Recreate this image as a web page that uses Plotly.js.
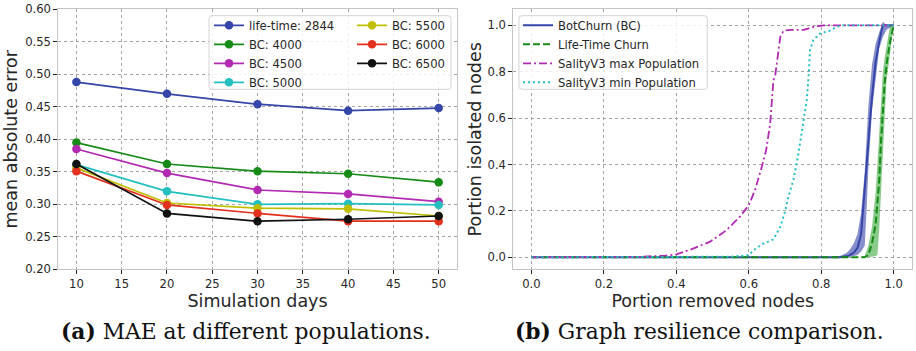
<!DOCTYPE html>
<html>
<head>
<meta charset="utf-8">
<script src="https://cdn.plot.ly/plotly-3.0.1.min.js"></script>
<style>
  html, body { margin: 0; padding: 0; background: #ffffff; }
  #chart { width: 916px; height: 351px; }
</style>
</head>
<body>
<div id="chart"></div>
<script>
// ---------- (a) MAE at different populations ----------
const days = [10, 20, 30, 40, 50];
const lifetime_2844 = [0.488, 0.470, 0.454, 0.444, 0.448];
const bc_4000 = [0.395, 0.362, 0.351, 0.347, 0.334];
const bc_4500 = [0.385, 0.348, 0.322, 0.316, 0.304];
const bc_5000 = [0.361, 0.320, 0.300, 0.301, 0.299];
const bc_5500 = [0.356, 0.302, 0.294, 0.293, 0.282];
const bc_6000 = [0.351, 0.299, 0.286, 0.274, 0.274];
const bc_6500 = [0.362, 0.286, 0.274, 0.277, 0.282];
const maeNames = ['life-time: 2844', 'BC: 4000', 'BC: 4500', 'BC: 5000', 'BC: 5500', 'BC: 6000', 'BC: 6500'];

// ---------- (b) Graph resilience comparison ----------
const botchurn_x    = [0, 0.82, 0.85, 0.87, 0.88, 0.89, 0.90, 0.91, 0.92, 0.925, 0.93, 0.94, 0.95, 0.96, 0.97, 0.98, 1.0];
const botchurn_mean = [0, 0, 0, 0.004, 0.01, 0.02, 0.04, 0.10, 0.29, 0.40, 0.50, 0.69, 0.84, 0.93, 1.0, 1.0, 1.0];
const botchurn_hi   = [0, 0, 0.004, 0.018, 0.035, 0.06, 0.10, 0.19, 0.37, 0.50, 0.65, 0.83, 0.92, 0.97, 1.015, 1.0, 1.0];
const botchurn_lo   = [0, 0, 0, 0, 0.002, 0.005, 0.01, 0.025, 0.05, 0.20, 0.38, 0.63, 0.78, 0.90, 0.95, 0.98, 1.0];

const lifetime_x    = [0, 0.90, 0.92, 0.93, 0.94, 0.95, 0.955, 0.96, 0.965, 0.97, 0.975, 0.98, 0.99, 1.0];
const lifetime_mean = [0, 0, 0, 0.01, 0.06, 0.14, 0.22, 0.33, 0.50, 0.63, 0.75, 0.83, 0.93, 1.0];
const lifetime_hi   = [0, 0, 0.005, 0.05, 0.13, 0.28, 0.40, 0.54, 0.67, 0.80, 0.86, 0.91, 1.0, 1.0];
const lifetime_lo   = [0, 0, 0, 0, 0.002, 0.005, 0.01, 0.12, 0.29, 0.45, 0.65, 0.76, 0.88, 1.0];

const salitymax_x = [0, 0.22, 0.30, 0.37, 0.40, 0.446, 0.492, 0.538, 0.575, 0.60, 0.617, 0.636, 0.648, 0.659, 0.664, 0.668, 0.673, 0.68, 0.687, 0.696, 0.715, 0.752, 0.78, 0.807, 0.90, 1.0];
const salitymax_y = [0, 0, 0.002, 0.007, 0.012, 0.037, 0.066, 0.116, 0.174, 0.224, 0.289, 0.39, 0.462, 0.576, 0.677, 0.763, 0.785, 0.864, 0.95, 0.977, 0.98, 0.98, 0.994, 1.0, 1.0, 1.0];

const salitymin_x = [0, 0.50, 0.55, 0.60, 0.613, 0.64, 0.668, 0.687, 0.70, 0.709, 0.723, 0.737, 0.746, 0.76, 0.765, 0.769, 0.778, 0.797, 0.824, 0.843, 0.861, 0.95, 1.0];
const salitymin_y = [0, 0, 0.002, 0.009, 0.03, 0.059, 0.077, 0.132, 0.196, 0.26, 0.332, 0.447, 0.533, 0.677, 0.778, 0.893, 0.936, 0.965, 0.977, 0.994, 1.0, 1.0, 1.0];

const resNames = ['BotChurn (BC)', 'Life-Time Churn', 'SalityV3 max Population', 'SalityV3 min Population'];

// ---------- styles ----------
const C = {
  blue: '#3545a8', green: '#168a16', magenta: '#b22ab2', cyan: '#24bfbf',
  yellow: '#bfbf00', red: '#e2301e', black: '#111111'
};
const maeColors = [C.blue, C.green, C.magenta, C.cyan, C.yellow, C.red, C.black];
const maeSeries = [lifetime_2844, bc_4000, bc_4500, bc_5000, bc_5500, bc_6000, bc_6500];
const maeLegend = ['legend', 'legend', 'legend', 'legend', 'legend2', 'legend2', 'legend2'];

const traces = [];
maeSeries.forEach((ys, i) => {
  traces.push({
    type: 'scatter', mode: 'lines+markers', x: days, y: ys, name: maeNames[i],
    xaxis: 'x', yaxis: 'y', legend: maeLegend[i], legendrank: i + 1,
    line: {color: maeColors[i], width: 1.7},
    marker: {color: maeColors[i], size: 8.5}
  });
});

// BotChurn band + line
traces.push({type: 'scatter', mode: 'lines', x: botchurn_x, y: botchurn_lo, xaxis: 'x2', yaxis: 'y2',
  line: {width: 0, color: 'rgba(0,0,0,0)'}, showlegend: false, hoverinfo: 'skip'});
traces.push({type: 'scatter', mode: 'lines', x: botchurn_x, y: botchurn_hi, xaxis: 'x2', yaxis: 'y2',
  fill: 'tonexty', fillcolor: 'rgba(53,69,168,0.6)', line: {width: 0, color: 'rgba(0,0,0,0)'},
  showlegend: false, hoverinfo: 'skip'});
traces.push({type: 'scatter', mode: 'lines', x: botchurn_x, y: botchurn_mean, name: resNames[0],
  xaxis: 'x2', yaxis: 'y2', legend: 'legend3', legendrank: 1, line: {color: C.blue, width: 2}});

// Life-time band + line
traces.push({type: 'scatter', mode: 'lines', x: lifetime_x, y: lifetime_lo, xaxis: 'x2', yaxis: 'y2',
  line: {width: 0, color: 'rgba(0,0,0,0)'}, showlegend: false, hoverinfo: 'skip'});
traces.push({type: 'scatter', mode: 'lines', x: lifetime_x, y: lifetime_hi, xaxis: 'x2', yaxis: 'y2',
  fill: 'tonexty', fillcolor: 'rgba(40,160,40,0.55)', line: {width: 0, color: 'rgba(0,0,0,0)'},
  showlegend: false, hoverinfo: 'skip'});
traces.push({type: 'scatter', mode: 'lines', x: lifetime_x, y: lifetime_mean, name: resNames[1],
  xaxis: 'x2', yaxis: 'y2', legend: 'legend3', legendrank: 2, line: {color: C.green, width: 2, dash: '7px,3px'}});

traces.push({type: 'scatter', mode: 'lines', x: salitymax_x, y: salitymax_y, name: resNames[2],
  xaxis: 'x2', yaxis: 'y2', legend: 'legend3', legendrank: 3, line: {color: C.magenta, width: 1.8, dash: '8px,3px,2px,3px'}});
traces.push({type: 'scatter', mode: 'lines', x: salitymin_x, y: salitymin_y, name: resNames[3],
  xaxis: 'x2', yaxis: 'y2', legend: 'legend3', legendrank: 4, line: {color: C.cyan, width: 2, dash: '2px,3px'}});

const W = 916, H = 351;
const px = v => v / W;
const py = v => 1 - v / H;

// rounded legend frame (pixel box -> paper path)
function roundBox(x0, y0, x1, y1, r) {
  const X = v => px(v).toFixed(5), Y = v => py(v).toFixed(5);
  return 'M' + X(x0 + r) + ',' + Y(y0) + ' L' + X(x1 - r) + ',' + Y(y0) +
    ' Q' + X(x1) + ',' + Y(y0) + ' ' + X(x1) + ',' + Y(y0 + r) +
    ' L' + X(x1) + ',' + Y(y1 - r) +
    ' Q' + X(x1) + ',' + Y(y1) + ' ' + X(x1 - r) + ',' + Y(y1) +
    ' L' + X(x0 + r) + ',' + Y(y1) +
    ' Q' + X(x0) + ',' + Y(y1) + ' ' + X(x0) + ',' + Y(y1 - r) +
    ' L' + X(x0) + ',' + Y(y0 + r) +
    ' Q' + X(x0) + ',' + Y(y0) + ' ' + X(x0 + r) + ',' + Y(y0) + ' Z';
}

const tickFont = {family: 'DejaVu Sans', size: 11.6, color: '#262626'};
const titleFont = {family: 'DejaVu Sans', size: 17.5, color: '#262626'};
const axBase = {
  showline: true, linecolor: '#c4c4c4', linewidth: 1, mirror: true,
  showgrid: true, gridcolor: '#9a9a9a', gridwidth: 0.9, griddash: '3px,3px',
  ticks: 'outside', ticklen: 4, tickwidth: 1, tickcolor: '#262626',
  tickfont: tickFont, zeroline: false, automargin: false, fixedrange: true
};

const legendBase = {
  orientation: 'v', xanchor: 'left', yanchor: 'top', bgcolor: 'rgba(0,0,0,0)',
  borderwidth: 0, font: {family: 'DejaVu Sans', size: 11.6, color: '#262626'},
  itemwidth: 30, tracegroupgap: 0, traceorder: 'normal'
};

const layout = {
  width: W, height: H,
  margin: {l: 0, r: 0, t: 0, b: 0},
  paper_bgcolor: '#ffffff', plot_bgcolor: '#ffffff',
  showlegend: true,
  xaxis: Object.assign({}, axBase, {
    domain: [px(58.3), px(456.8)], range: [8, 52], tick0: 10, dtick: 5, anchor: 'y',
    title: {text: 'Simulation days', font: titleFont, standoff: 2}
  }),
  yaxis: Object.assign({}, axBase, {
    domain: [1 - 269.3 / H, 1 - 9.3 / H], range: [0.2, 0.6], dtick: 0.05, tick0: 0.2,
    tickformat: '.2f', anchor: 'x',
    title: {text: 'mean absolute error', font: titleFont, standoff: 2.5}
  }),
  xaxis2: Object.assign({}, axBase, {
    domain: [px(513.3), px(912.3)], range: [-0.05, 1.0513], tick0: 0, dtick: 0.2,
    tickformat: '.1f', anchor: 'y2',
    title: {text: 'Portion removed nodes', font: titleFont, standoff: 2}
  }),
  yaxis2: Object.assign({}, axBase, {
    domain: [1 - 269.3 / H, 1 - 9.3 / H], range: [-0.052, 1.069], tick0: 0, dtick: 0.2,
    tickformat: '.1f', anchor: 'x2',
    title: {text: 'Portion isolated nodes', font: titleFont, standoff: 1}
  }),
  legend: Object.assign({}, legendBase, {x: px(209), y: py(10.8)}),
  legend2: Object.assign({}, legendBase, {x: px(352), y: py(10.8)}),
  legend3: Object.assign({}, legendBase, {x: px(518), y: py(10.8)}),
  shapes: [
    {type: 'path', xref: 'paper', yref: 'paper', path: roundBox(209, 15.7, 451, 89.3, 3),
     fillcolor: 'rgba(255,255,255,0.85)', line: {color: '#d4d4d4', width: 1}, layer: 'above'},
    {type: 'path', xref: 'paper', yref: 'paper', path: roundBox(519, 15.7, 707.3, 89.3, 3),
     fillcolor: 'rgba(255,255,255,0.85)', line: {color: '#d4d4d4', width: 1}, layer: 'above'}
  ],
  annotations: [
    {xref: 'paper', yref: 'paper', x: px(246), y: py(331), xanchor: 'center', yanchor: 'middle',
     showarrow: false, text: '<b>(a)</b> MAE at different populations.',
     font: {family: 'DejaVu Serif', size: 21.8, color: '#111'}},
    {xref: 'paper', yref: 'paper', x: px(699), y: py(331), xanchor: 'center', yanchor: 'middle',
     showarrow: false, text: '<b>(b)</b> Graph resilience comparison.',
     font: {family: 'DejaVu Serif', size: 21.8, color: '#111'}}
  ]
};

Plotly.newPlot('chart', traces, layout, {displayModeBar: false, staticPlot: true});
</script>
</body>
</html>
